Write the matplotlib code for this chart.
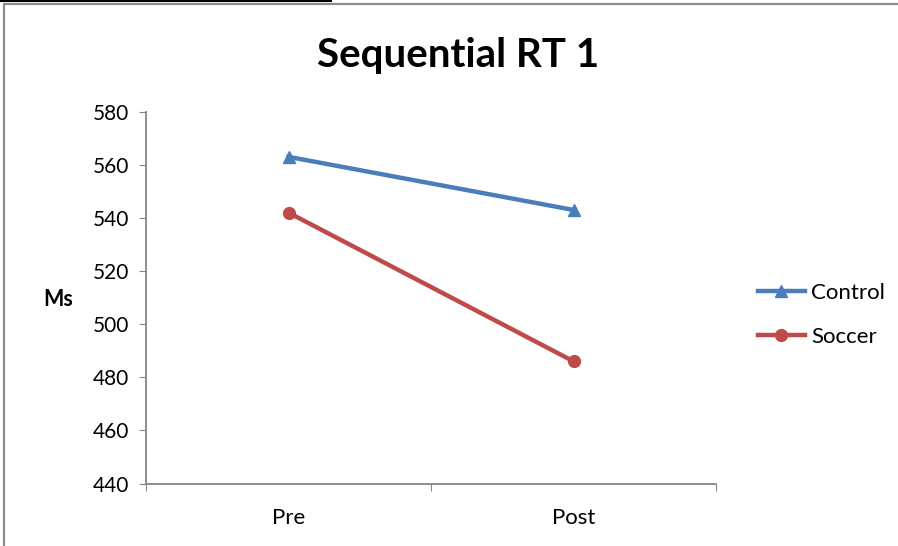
import matplotlib
matplotlib.use("Agg")
import matplotlib.pyplot as plt
from matplotlib.patches import Rectangle
from matplotlib.lines import Line2D

categories = ["Pre", "Post"]
control = [563, 543]
soccer = [542, 486]
y_ticks = [440, 460, 480, 500, 520, 540, 560, 580]

BLUE = "#4A7EBB"
RED = "#BE4B48"
AXIS = "#868686"
FONT = ["Lato", "DejaVu Sans"]

W, H = 898, 546
fig = plt.figure(figsize=(W / 100, H / 100), dpi=100)
plt.rcParams["font.family"] = FONT

# outer frame and the stray top line
fig.patches.append(Rectangle((4 / W, -0.1), 1.2, 1 - 4 / H + 0.1,
                             transform=fig.transFigure, fill=False,
                             ec="#8c8c8c", lw=1.6))
fig.add_artist(Line2D([0, 331 / W], [1 - 1 / H, 1 - 1 / H],
                      transform=fig.transFigure, color="black", lw=1.5))

ax = fig.add_axes([146 / W, 1 - 483.5 / H, (716 - 146) / W, (483.5 - 111.7) / H])
x = [0.5, 1.5]
ax.plot(x, control, color=BLUE, lw=3.2, marker="^", ms=8.5, label="Control")
ax.plot(x, soccer, color=RED, lw=3.2, marker="o", ms=8.5, label="Soccer")

ax.set_xlim(0, 2)
ax.set_ylim(440, 580)
ax.set_yticks(y_ticks)
ax.set_xticks([0, 1, 2], minor=False)
ax.set_xticklabels([])
ax.set_xticks(x, minor=True)
ax.set_xticklabels(categories, minor=True)
ax.tick_params(axis="x", which="minor", length=0, pad=18, labelsize=16)
ax.tick_params(axis="x", which="major", length=5, color=AXIS, direction="out")
ax.tick_params(axis="y", length=5, color=AXIS, labelsize=15, pad=7)
for s in ("top", "right"):
    ax.spines[s].set_visible(False)
for s in ("left", "bottom"):
    ax.spines[s].set_color(AXIS)
    ax.spines[s].set_linewidth(1.3)

fig.text(458 / W, 1 - 55 / H, "Sequential RT 1", ha="center", va="center",
         fontsize=29, fontweight="bold")
fig.text(58 / W, 1 - 300 / H, "Ms", ha="center", va="center",
         fontsize=15.5, fontweight="bold")

fig.legend(loc="center left", bbox_to_anchor=(738 / W, 1 - 315 / H),
           frameon=False, fontsize=16, handlelength=2.1, labelspacing=1.08,
           handletextpad=0.3)

fig.savefig("out.png", dpi=100)
